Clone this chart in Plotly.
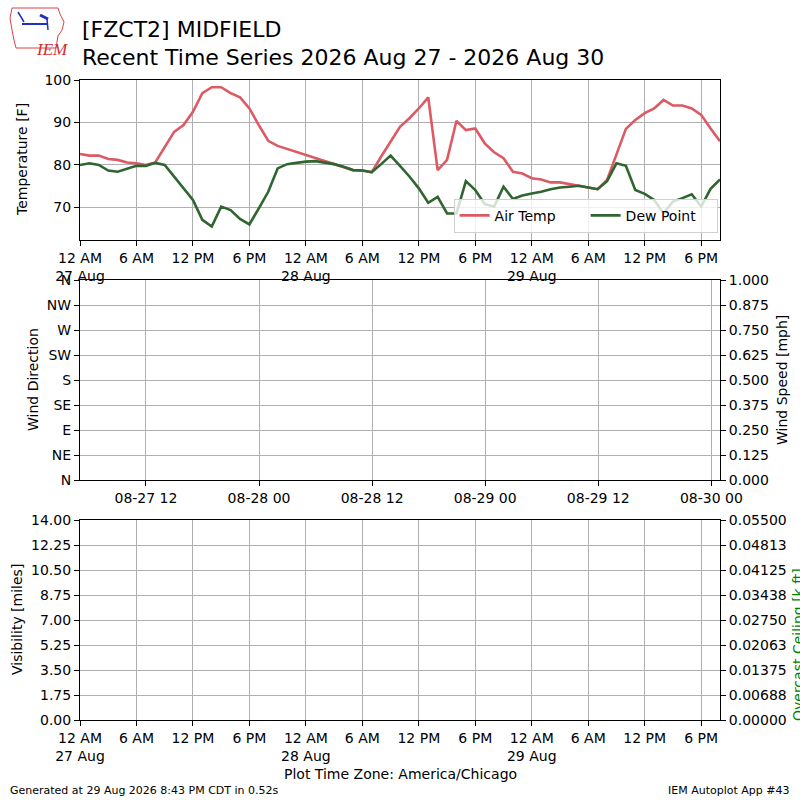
import pandas as pd
import plotly.graph_objects as go

# hourly observations, 27 Aug 00:00 .. 29 Aug 20:00 (America/Chicago)
times = pd.date_range("2026-08-27 00:00", "2026-08-29 20:00", freq="h")

air_temp = [82.6, 82.2, 82.2, 81.4, 81.2, 80.6, 80.4, 80.0, 80.6, 84.3,
            87.8, 89.4, 92.5, 96.9, 98.3, 98.3, 96.9, 95.9, 93.3, 89.4,
            85.7, 84.5, 83.8, 83.1, 82.4, 81.6, 80.9, 80.2, 79.5, 78.8,
            78.7, 78.3, 82.0, 85.5,
            89.0, 91.0, 93.3, 95.9, 78.8, 81.2, 90.4, 88.2, 88.6, 85.1,
            83.0, 81.6, 78.4, 78.0, 76.9, 76.6, 75.9, 75.9, 75.5, 75.1,
            74.7, 74.3, 76.5, 82.7, 88.5, 90.6, 92.2, 93.3, 95.3, 94.0,
            94.0, 93.3, 91.8, 88.6, 85.6]

dew_point = [80.0, 80.4, 80.0, 78.7, 78.4, 79.1, 79.8, 79.8, 80.5, 80.0,
             77.3, 74.5, 71.8, 67.1, 65.5, 70.2, 69.4, 67.3, 66.0, 69.8,
             73.7, 79.2, 80.2, 80.5, 80.8, 80.9, 80.6, 80.2, 79.6, 78.8,
             78.7, 78.3, 80.2, 82.2,
             79.8, 77.3, 74.5, 71.1, 72.5, 68.6, 68.6, 76.2, 74.1, 70.8,
             70.2, 74.9, 72.0, 72.8, 73.3, 73.7, 74.3, 74.7, 74.9, 75.1,
             74.7, 74.3, 76.2, 80.4, 79.8, 74.1, 73.2, 71.8, 68.6, 71.4,
             72.2, 73.1, 70.2, 74.4, 76.6]

tick_times = pd.date_range("2026-08-27 00:00", periods=12, freq="6h")
tick_labels = ["12 AM<br>27 Aug", "6 AM", "12 PM", "6 PM",
               "12 AM<br>28 Aug", "6 AM", "12 PM", "6 PM",
               "12 AM<br>29 Aug", "6 AM", "12 PM", "6 PM"]

dir_vals = [0, 45, 90, 135, 180, 225, 270, 315, 360]
dir_labels = ["N", "NE", "E", "SE", "S", "SW", "W", "NW", "N"]

speed_ticks = [0, 0.125, 0.25, 0.375, 0.5, 0.625, 0.75, 0.875, 1.0]
vis_ticks = [0, 1.75, 3.5, 5.25, 7.0, 8.75, 10.5, 12.25, 14.0]
ceil_ticks = [0, 0.006875, 0.01375, 0.020625, 0.0275, 0.034375, 0.04125, 0.048125, 0.055]
ceil_labels = ["0.00000", "0.00688", "0.01375", "0.02063", "0.02750",
               "0.03438", "0.04125", "0.04813", "0.05500"]

RED = "#dc5a64"
GREEN = "#2f6530"
FONT = "DejaVu Sans"
GRID = "#b0b0b0"


def px(x, y):
    return x / 800, 1 - y / 800


fig = go.Figure()
fig.add_trace(go.Scatter(x=times, y=air_temp, name="Air Temp", mode="lines",
                         line=dict(color=RED, width=2.6), xaxis="x", yaxis="y"))
fig.add_trace(go.Scatter(x=times, y=dew_point, name="Dew Point", mode="lines",
                         line=dict(color=GREEN, width=2.6), xaxis="x", yaxis="y"))
# empty panels
for xa, ya in [("x2", "y2"), ("x2", "y4"), ("x3", "y3"), ("x3", "y5")]:
    fig.add_trace(go.Scatter(x=[], y=[], xaxis=xa, yaxis=ya, showlegend=False))

axis_common = dict(showline=True, linecolor="black", linewidth=1.1, mirror=True,
                   ticks="outside", ticklen=5, tickcolor="black", tickwidth=1.1,
                   showgrid=True, gridcolor=GRID, gridwidth=1, zeroline=False,
                   automargin=False,
                   tickfont=dict(family=FONT, size=14, color="black"))
right_common = {**axis_common, "showgrid": False, "mirror": False}

full_range = ["2026-08-27 00:00", "2026-08-29 20:00"]

fig.update_layout(
    width=800, height=800,
    margin=dict(l=0, r=0, t=0, b=0, autoexpand=False),
    paper_bgcolor="white", plot_bgcolor="white",
    font=dict(family=FONT, size=14, color="black"),
    xaxis=dict(domain=[0.1, 0.9], anchor="y", type="date", range=full_range,
               tickvals=tick_times, ticktext=tick_labels, **axis_common),
    yaxis=dict(domain=[0.7, 0.9], anchor="x", range=[62.35, 100],
               tickvals=[70, 80, 90, 100], **axis_common),
    xaxis2=dict(domain=[0.1, 0.9], anchor="y2", type="date",
                range=["2026-08-27 05:00", "2026-08-30 00:55"],
                tick0="2026-08-27 00:00", dtick=12 * 3600 * 1000,
                tickformat="%m-%d %H", **axis_common),
    yaxis2=dict(domain=[0.4, 0.65], anchor="x2", range=[0, 360],
                tickvals=dir_vals, ticktext=dir_labels, **axis_common),
    yaxis4=dict(overlaying="y2", anchor="x2", side="right", range=[0, 1],
                tickvals=speed_ticks, tickformat=".3f", **right_common),
    xaxis3=dict(domain=[0.1, 0.9], anchor="y3", type="date", range=full_range,
                tickvals=tick_times, ticktext=tick_labels, **axis_common),
    yaxis3=dict(domain=[0.1, 0.35], anchor="x3", range=[0, 14],
                tickvals=vis_ticks, tickformat=".2f", **axis_common),
    yaxis5=dict(overlaying="y3", anchor="x3", side="right", range=[0, 0.055],
                tickvals=ceil_ticks, ticktext=ceil_labels, **right_common),
    legend=dict(orientation="h", x=0.897, xanchor="right", y=0.709, yanchor="bottom",
                bgcolor="rgba(255,255,255,0.8)", bordercolor="#d0d0d0", borderwidth=1,
                font=dict(family=FONT, size=14), itemwidth=30,
                entrywidth=86, entrywidthmode="pixels"),
)

annots = [
    dict(text="[FZCT2] MIDFIELD", x=80, y=30, size=22, xanchor="left"),
    dict(text="Recent Time Series 2026 Aug 27 - 2026 Aug 30", x=80, y=57, size=22, xanchor="left"),
    dict(text="Temperature [F]", x=22, y=160, size=14, angle=-90),
    dict(text="Wind Direction", x=33, y=380, size=14, angle=-90),
    dict(text="Wind Speed [mph]", x=782, y=380, size=14, angle=-90),
    dict(text="Visibility [miles]", x=17, y=620, size=14, angle=-90),
    dict(text="Overcast Ceiling [k ft]", x=798, y=645, size=14, angle=-90, color="green"),
    dict(text="Plot Time Zone: America/Chicago", x=400, y=774, size=14),
    dict(text="Generated at 29 Aug 2026 8:43 PM CDT in 0.52s", x=8, y=790, size=11, xanchor="left"),
    dict(text="IEM Autoplot App #43", x=792, y=790, size=11, xanchor="right"),
]
for a in annots:
    ax, ay = px(a["x"], a["y"])
    fig.add_annotation(text=a["text"], x=ax, y=ay, xref="paper", yref="paper",
                       showarrow=False, xanchor=a.get("xanchor", "center"), yanchor="middle",
                       textangle=a.get("angle", 0),
                       font=dict(family=FONT, size=a["size"], color=a.get("color", "black")))

# IEM logo: rough Iowa outline, small blue station icon and text
outline = [(12, 8), (58, 8), (60, 14), (64, 22), (62, 30), (58, 36), (57, 42),
           (56, 48), (16, 48), (14, 40), (12, 30), (10, 18), (12, 8)]
path = "M " + " L ".join("%.4f %.4f" % px(x, y) for x, y in outline) + " Z"
fig.add_shape(type="path", path=path, xref="paper", yref="paper",
              line=dict(color="#e04040", width=1))
icon = [((18, 12), (24, 22), 1.5), ((22, 24), (48, 24), 2), ((40, 15), (48, 19), 3),
        ((47, 19), (48, 30), 1.5)]
for (x0, y0), (x1, y1), w in icon:
    a0, b0 = px(x0, y0)
    a1, b1 = px(x1, y1)
    fig.add_shape(type="line", x0=a0, y0=b0, x1=a1, y1=b1, xref="paper", yref="paper",
                  line=dict(color="#2030c0", width=w))
lx, ly = px(34, 38)
fig.add_annotation(text="<i>IEM</i>", x=lx, y=ly, xref="paper", yref="paper",
                   showarrow=False, font=dict(family="Liberation Serif", size=17, color="#d03030"))

# drop the page's default body margin so the figure sits at the window corner
fig.write_html("out.html", config={"displayModeBar": False},
               post_script="document.body.style.margin='0';")
